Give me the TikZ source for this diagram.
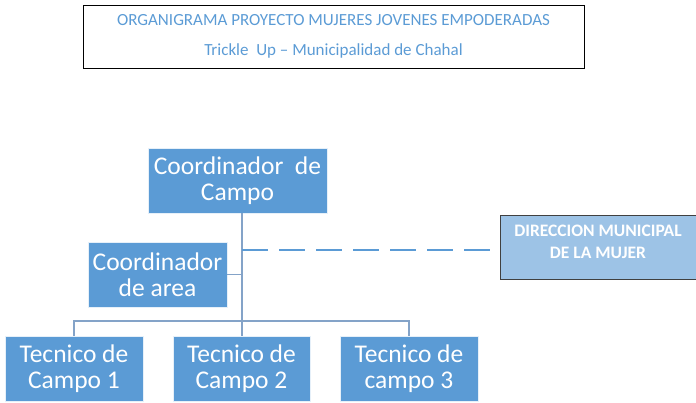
\documentclass[tikz,border=0pt]{standalone}
\usepackage{fontspec}
\setmainfont{Carlito}
\usepackage{tikz}
\usetikzlibrary{calc,positioning}
\definecolor{boxblue}{RGB}{91,155,213}
\definecolor{paleblue}{RGB}{157,195,230}
\definecolor{linkblue}{RGB}{132,163,200}
\tikzset{>=latex}
\tikzset{
  unitbox/.style = {rectangle, fill = boxblue, draw = white!85!boxblue, line width = 0.6pt,
    text = white, align = center, inner sep = 0pt, font = \fontsize{25.5}{25.5}\selectfont},
  link/.style = {draw = linkblue, line width = 1.3pt},
  dashlink/.style = {draw = boxblue, line width = 1.4pt, dash pattern = on 26pt off 11pt}
}

\begin{document}
\begin{tikzpicture}[x = 1pt, y = -1pt]
\useasboundingbox (0,0) rectangle (696,402);
\clip (0,0) rectangle (696,402);

\node[draw, line width = 0.8pt, minimum width = 501pt, minimum height = 63pt, align = center,
  text = boxblue, font = \fontsize{17}{30}\selectfont] (title) at (333.5, 36.5)
  {ORGANIGRAMA PROYECTO MUJERES JOVENES EMPODERADAS\\Trickle\ \ Up -- Municipalidad de Chahal};

\node[unitbox, minimum width = 179pt, minimum height = 65pt] (campo) at (237.5, 180.5) {Coordinador\ \ de\\Campo};
\node[unitbox, minimum width = 139pt, minimum height = 65pt] (area) at (157.5, 274.5) {Coordinador\\de area};
\node[rectangle, fill = paleblue, draw = black!75, line width = 0.8pt, minimum width = 196pt,
  minimum height = 64pt, text = white, align = center, text depth = 11pt,
  font = \fontsize{17.5}{22}\selectfont\bfseries] (dmm) at (598, 247) {DIRECCION MUNICIPAL\\DE LA MUJER};

\node[unitbox, minimum width = 138pt, minimum height = 65pt] (tec1) at (74, 368.5) {Tecnico de\\Campo 1};
\node[unitbox, minimum width = 137pt, minimum height = 65pt] (tec2) at (241.5, 368.5) {Tecnico de\\Campo 2};
\node[unitbox, minimum width = 138pt, minimum height = 65pt] (tec3) at (409, 368.5) {Tecnico de\\campo 3};

\coordinate (bus) at (242, 321);
\coordinate (tap) at (242, 250);
\draw[link] (campo.south -| bus) -- (bus);
\draw[link] (area.east) -- (area.east -| bus);
\draw[link] (tec1.north) |- (bus) -| (tec3.north);
\draw[link] (bus) -- (tec2.north -| bus);
\draw[dashlink] (tap) -- (dmm.west |- tap);
\end{tikzpicture}
\end{document}
